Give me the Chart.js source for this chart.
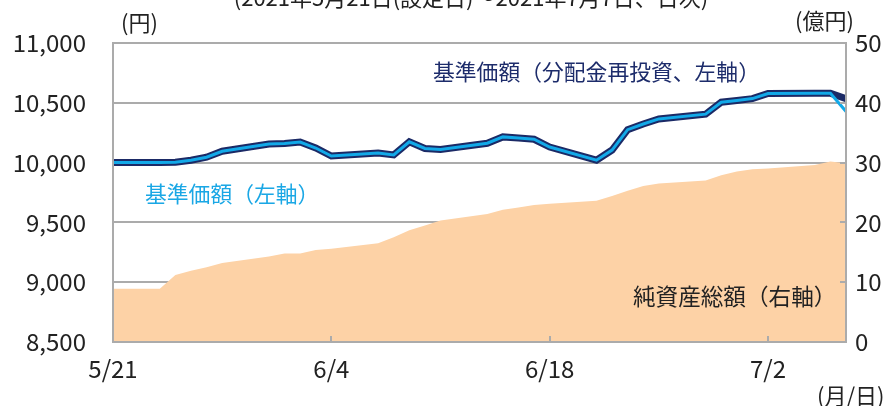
<!DOCTYPE html>
<html><head><meta charset="utf-8">
<script src="https://cdn.jsdelivr.net/npm/chart.js@4/dist/chart.umd.min.js"></script>
<style>
html,body{margin:0;padding:0;background:#fff;}
#wrap{position:relative;width:893px;height:406px;overflow:hidden;font-family:"Noto Sans CJK JP","Noto Sans",sans-serif;}
canvas{position:absolute;left:0;top:0;}
.t{position:absolute;white-space:nowrap;line-height:1;}
</style></head>
<body>
<div id="wrap">
<canvas id="c" width="893" height="406"></canvas>
<div class="t" style="left:471px;top:-15px;font-size:22px;color:#222;transform:translateX(-50%)">(2021年5月21日(設定日)～2021年7月7日、日次)</div>
<div class="t" style="left:121px;top:10px;font-size:22px;color:#222;">(円)</div>
<div class="t" style="left:795px;top:8px;font-size:22px;color:#222;">(億円)</div>
<div class="t" style="left:817px;top:383px;font-size:22px;color:#222;">(月/日)</div>
<div class="t" style="left:433px;top:60px;font-size:21.8px;color:#1D2C6B;">基準価額（分配金再投資、左軸）</div>
<div class="t" style="left:145px;top:182px;font-size:21.8px;color:#1AA7E5;">基準価額（左軸）</div>
<div class="t" style="left:633px;top:285px;font-size:22.6px;color:#222;">純資産総額（右軸）</div>
</div>
<script>
// ---- data ----
const dates = ['5/21','5/24','5/25','5/26','5/27','5/28','5/31','6/1','6/2','6/3','6/4',
  '6/7','6/8','6/9','6/10','6/11','6/14','6/15','6/16','6/17','6/18',
  '6/21','6/22','6/23','6/24','6/25','6/28','6/29','6/30','7/1','7/2','7/5','7/6','7/7'];
const nav = [10000,10000,10003,10020,10045,10095,10155,10160,10172,10122,10055,
  10080,10064,10174,10118,10110,10162,10215,10205,10195,10130,
  10020,10105,10275,10323,10365,10405,10505,10520,10535,10578,10579,10580,10428];
const navReinvested = [10000,10000,10003,10020,10045,10095,10155,10160,10172,10122,10055,
  10080,10064,10174,10118,10110,10162,10215,10205,10195,10130,
  10020,10105,10275,10323,10365,10405,10505,10520,10535,10578,10579,10580,10535];
const netAssets = [8.9,8.9,11.2,11.9,12.5,13.2,14.3,14.8,14.8,15.4,15.6,
  16.5,17.5,18.7,19.5,20.3,21.4,22.1,22.5,22.9,23.1,
  23.6,24.4,25.3,26.1,26.5,27.0,27.9,28.5,28.9,29.0,29.6,30.2,29.9];
const xTickLabels = ['5/21','6/4','6/18','7/2'];
const lastDate = '7/7';

function dayIndex(s){const [m,d]=s.split('/').map(Number);return Math.round((Date.UTC(2021,m-1,d)-Date.UTC(2021,4,21))/86400000);}
const toPts = arr => arr.map((v,i)=>({x:dayIndex(dates[i]),y:v}));
const xTickVals = xTickLabels.map(dayIndex);
const labelFor = {}; xTickLabels.forEach(l=>labelFor[dayIndex(l)]=l);

const GRID='#ABABAB';
const FONT='"Noto Sans CJK JP","Noto Sans",sans-serif';

const innerTicks = {
  id:'innerTicks',
  afterDatasetsDraw(chart){
    const {ctx,chartArea:a,scales} = chart;
    ctx.save();
    ctx.strokeStyle=GRID; ctx.lineWidth=2;
    xTickVals.forEach(v=>{ if(v===0) return;
      const x=Math.round(scales.x.getPixelForValue(v));
      ctx.beginPath();ctx.moveTo(x,a.bottom);ctx.lineTo(x,a.bottom-6);ctx.stroke();});
    scales.y2.ticks.forEach(t=>{
      const y=Math.round(scales.y2.getPixelForValue(t.value));
      ctx.beginPath();ctx.moveTo(a.right,y);ctx.lineTo(a.right-6,y);ctx.stroke();});
    ctx.beginPath();ctx.moveTo(a.left,a.bottom);ctx.lineTo(a.right,a.bottom);ctx.lineTo(a.right,a.top);ctx.stroke();
    ctx.beginPath();ctx.moveTo(a.left,a.top);ctx.lineTo(a.left,a.bottom);ctx.stroke();
    ctx.restore();
  }
};

new Chart(document.getElementById('c'),{
  type:'line',
  data:{datasets:[
    {label:'基準価額（左軸）',data:toPts(nav),yAxisID:'y',borderColor:'#12A9E8',borderWidth:3,pointRadius:0,tension:0,fill:false,order:0},
    {label:'基準価額（分配金再投資、左軸）',data:toPts(navReinvested),yAxisID:'y',borderColor:'#1B2A66',borderWidth:7,pointRadius:0,tension:0,fill:false,order:1},
    {label:'純資産総額（右軸）',data:toPts(netAssets),yAxisID:'y2',borderWidth:0,borderColor:'rgba(0,0,0,0)',backgroundColor:'#FDD2A6',pointRadius:0,tension:0,fill:'origin',order:2}
  ]},
  options:{
    responsive:false,animation:false,
    layout:{padding:{top:43,left:0,right:0,bottom:0}},
    plugins:{legend:{display:false},tooltip:{enabled:false},title:{display:false}},
    scales:{
      x:{type:'linear',min:0,max:dayIndex(lastDate),
        afterBuildTicks(s){s.ticks=xTickVals.map(v=>({value:v}));},
        afterFit(s){s.height=64;},
        grid:{display:true,drawOnChartArea:false,drawTicks:false},
        border:{display:true,color:GRID,width:2},
        ticks:{padding:12,maxRotation:0,autoSkip:false,color:'#222',font:{family:FONT,size:24},callback:v=>labelFor[v]||''}},
      y:{position:'left',min:8500,max:11000,
        afterBuildTicks(s){const t=[];for(let v=8500;v<=11000;v+=500)t.push({value:v});s.ticks=t;},
        afterFit(s){s.width=113;},
        grid:{color:GRID,lineWidth:2,drawTicks:false},
        border:{display:true,color:GRID,width:2},
        ticks:{padding:27,color:'#222',font:{family:FONT,size:24},callback:v=>v.toLocaleString('en-US')}},
      y2:{position:'right',min:0,max:50,
        afterBuildTicks(s){const t=[];for(let v=0;v<=50;v+=10)t.push({value:v});s.ticks=t;},
        afterFit(s){s.width=47;},
        grid:{drawOnChartArea:false,drawTicks:false},
        border:{display:true,color:GRID,width:2},
        ticks:{padding:9,color:'#222',font:{family:FONT,size:24}}}
    }
  },
  plugins:[innerTicks]
});
</script>
</body></html>
